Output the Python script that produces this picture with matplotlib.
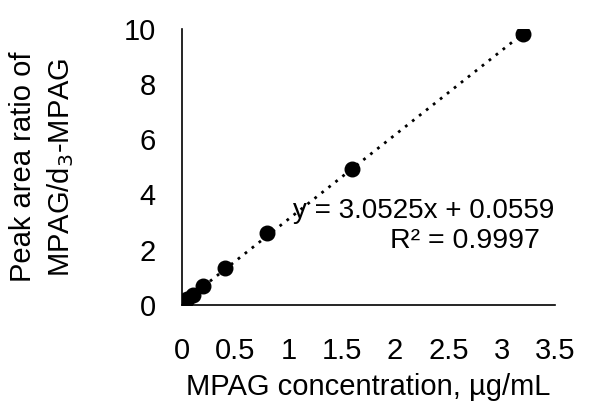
import numpy as np
from matplotlib import pyplot as plt

plt.rcParams["font.family"] = ["Liberation Sans", "DejaVu Sans"]

# data
conc = [0.0, 0.0125, 0.025, 0.05, 0.1, 0.2, 0.4, 0.8, 1.6, 3.2]
ratio = [0.02, 0.06, 0.12, 0.2, 0.35, 0.68, 1.33, 2.62, 4.93, 9.83]
slope, intercept = 3.0525, 0.0559
xticks = [0, 0.5, 1, 1.5, 2, 2.5, 3, 3.5]
yticks = [0, 2, 4, 6, 8, 10]
eq_text = "y = 3.0525x + 0.0559"
r2_text = "R² = 0.9997"

fig = plt.figure(figsize=(6.13, 4.07), dpi=100)
ax = fig.add_axes([0.297, 0.251, 0.608, 0.678])

xs = np.linspace(0, max(conc), 50)
ax.plot(xs, slope * xs + intercept, color="k", ls=(0, (1, 2.2)), lw=2, zorder=1)
ax.scatter(conc, ratio, s=110, color="k", zorder=2)

ax.set_xlim(0, 3.5)
ax.set_ylim(0, 10)
ax.set_xticks(xticks)
ax.set_xticklabels([f"{t:g}" for t in xticks])
ax.set_yticks(yticks)
ax.tick_params(axis="x", length=0, labelsize=21, pad=23)
ax.tick_params(axis="y", length=0, labelsize=21, pad=19)
for s in ["top", "right"]:
    ax.spines[s].set_visible(False)
ax.spines["left"].set_linewidth(1.2)
ax.spines["bottom"].set_linewidth(1.2)

ax.set_xlabel("MPAG concentration, µg/mL", fontsize=21, labelpad=6)
ax.set_ylabel("Peak area ratio of\nMPAG/d$_3$-MPAG", fontsize=21, labelpad=34,
              linespacing=1.35)

ax.text(3.5, 3.4, eq_text, ha="right", va="center", fontsize=20)
ax.text(3.36, 2.3, r2_text, ha="right", va="center", fontsize=20.5)

plt.savefig("out.png", dpi=100)
